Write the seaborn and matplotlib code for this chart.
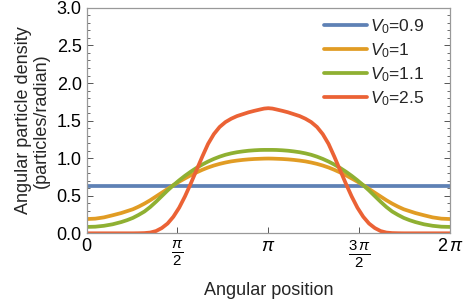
import numpy as np
import pandas as pd
import matplotlib
matplotlib.use("Agg")
import matplotlib.pyplot as plt
import seaborn as sns
from matplotlib.ticker import MultipleLocator, FormatStrFormatter

sns.set_style("ticks")
plt.rcParams["font.family"] = ["Liberation Sans", "DejaVu Sans"]
plt.rcParams["mathtext.fontset"] = "custom"
plt.rcParams["mathtext.rm"] = "Liberation Sans"
plt.rcParams["mathtext.it"] = "Liberation Sans:italic"

# angular positions (rad)
theta = [0, 0.15, 0.3, 0.45, 0.6, 0.7, 0.8, 0.9, 1.0, 1.1, 1.2, 1.3, 1.4, 1.5,
         1.6, 1.7, 1.8, 1.9, 2.0, 2.1, 2.2, 2.3, 2.4, 2.5, 2.6, 2.7, 2.8, 2.9,
         3.0, 3.07, 3.1416,
         3.213, 3.283, 3.383, 3.483, 3.583, 3.683, 3.783, 3.883, 3.983, 4.083,
         4.183, 4.283, 4.383, 4.483, 4.583, 4.683, 4.783, 4.883, 4.983, 5.083,
         5.183, 5.283, 5.383, 5.483, 5.583, 5.683, 5.833, 5.983, 6.133, 6.2832]

dens_09 = [0.635] * len(theta)

dens_10 = [0.19, 0.195, 0.212, 0.24, 0.27, 0.295, 0.32, 0.355, 0.395, 0.44,
           0.49, 0.54, 0.59, 0.64, 0.687, 0.73, 0.772, 0.81, 0.845, 0.876,
           0.902, 0.924, 0.942, 0.957, 0.968, 0.977, 0.984, 0.989, 0.992, 0.994,
           0.995,
           0.994, 0.992, 0.989, 0.984, 0.977, 0.968, 0.957, 0.942, 0.924, 0.902,
           0.876, 0.845, 0.81, 0.772, 0.73, 0.687, 0.64, 0.59, 0.54, 0.49,
           0.44, 0.395, 0.355, 0.32, 0.295, 0.27, 0.24, 0.212, 0.195, 0.19]

dens_11 = [0.085, 0.088, 0.10, 0.12, 0.15, 0.175, 0.205, 0.245, 0.29, 0.35,
           0.42, 0.495, 0.57, 0.64, 0.705, 0.765, 0.82, 0.87, 0.915, 0.955,
           0.99, 1.02, 1.045, 1.064, 1.079, 1.09, 1.099, 1.105, 1.109, 1.11,
           1.11,
           1.11, 1.109, 1.105, 1.099, 1.09, 1.079, 1.064, 1.045, 1.02, 0.99,
           0.955, 0.915, 0.87, 0.82, 0.765, 0.705, 0.64, 0.57, 0.495, 0.42,
           0.35, 0.29, 0.245, 0.205, 0.175, 0.15, 0.12, 0.10, 0.088, 0.085]

dens_25 = [0.0, 0.0, 0.0, 0.0, 0.0, 0.0, 0.0, 0.001, 0.003, 0.01,
           0.03, 0.07, 0.13, 0.22, 0.34, 0.49, 0.66, 0.84, 1.02, 1.19,
           1.32, 1.415, 1.48, 1.525, 1.56, 1.585, 1.61, 1.63, 1.648, 1.66,
           1.665,
           1.66, 1.648, 1.63, 1.61, 1.585, 1.56, 1.525, 1.48, 1.415, 1.32,
           1.19, 1.02, 0.84, 0.66, 0.49, 0.34, 0.22, 0.13, 0.07, 0.03,
           0.01, 0.003, 0.001, 0.0, 0.0, 0.0, 0.0, 0.0, 0.0, 0.0]

labels = [r"$V_0$=0.9", r"$V_0$=1", r"$V_0$=1.1", r"$V_0$=2.5"]
colors = ["#5E81B5", "#E19C24", "#8FB032", "#EB6235"]
xtick_labels = ["0", r"$\frac{\pi}{2}$", r"$\pi$", r"$\frac{3\,\pi}{2}$", r"$2\,\pi$"]

fig = plt.figure(figsize=(4.63, 3.03), dpi=100)
ax = fig.add_axes([0.187, 0.23, 0.785, 0.744])

for dens, lab, col in zip([dens_09, dens_10, dens_11, dens_25], labels, colors):
    df = pd.DataFrame({"theta": theta, "density": dens})
    sns.lineplot(data=df, x="theta", y="density", ax=ax, color=col, lw=2.7,
                 label=lab, sort=False)

ax.set_xlim(0, 2 * np.pi)
ax.set_ylim(0, 3.0)
ax.set_xticks([0, np.pi / 2, np.pi, 3 * np.pi / 2, 2 * np.pi])
ax.set_xticklabels(xtick_labels)
ax.yaxis.set_major_locator(MultipleLocator(0.5))
ax.yaxis.set_minor_locator(MultipleLocator(0.1))
ax.yaxis.set_major_formatter(FormatStrFormatter("%.1f"))
ax.tick_params(axis="both", which="major", direction="in", length=4, width=0.7,
               labelsize=13, colors="#555555", labelcolor="black", right=True)
ax.tick_params(axis="y", which="minor", direction="in", length=2, width=0.6,
               colors="#555555", right=True)
# fractions a bit larger so numerator/denominator match the reference
for i in (1, 3):
    ax.get_xticklabels()[i].set_fontsize(15.5)
for s in ax.spines.values():
    s.set_color("#999999")
    s.set_linewidth(0.9)

ax.set_xlabel("Angular position", fontsize=13)
ax.xaxis.set_label_coords(0.5, -0.215)
ax.set_ylabel("Angular particle density\n(particles/radian)", fontsize=13,
              labelpad=5, linespacing=1.05)

ax.legend(loc="upper right", bbox_to_anchor=(0.95, 0.99), frameon=False,
          fontsize=12.5, handlelength=2.5, handletextpad=0.2, labelspacing=0.3,
          borderaxespad=0)

fig.savefig("out.png", dpi=100)
